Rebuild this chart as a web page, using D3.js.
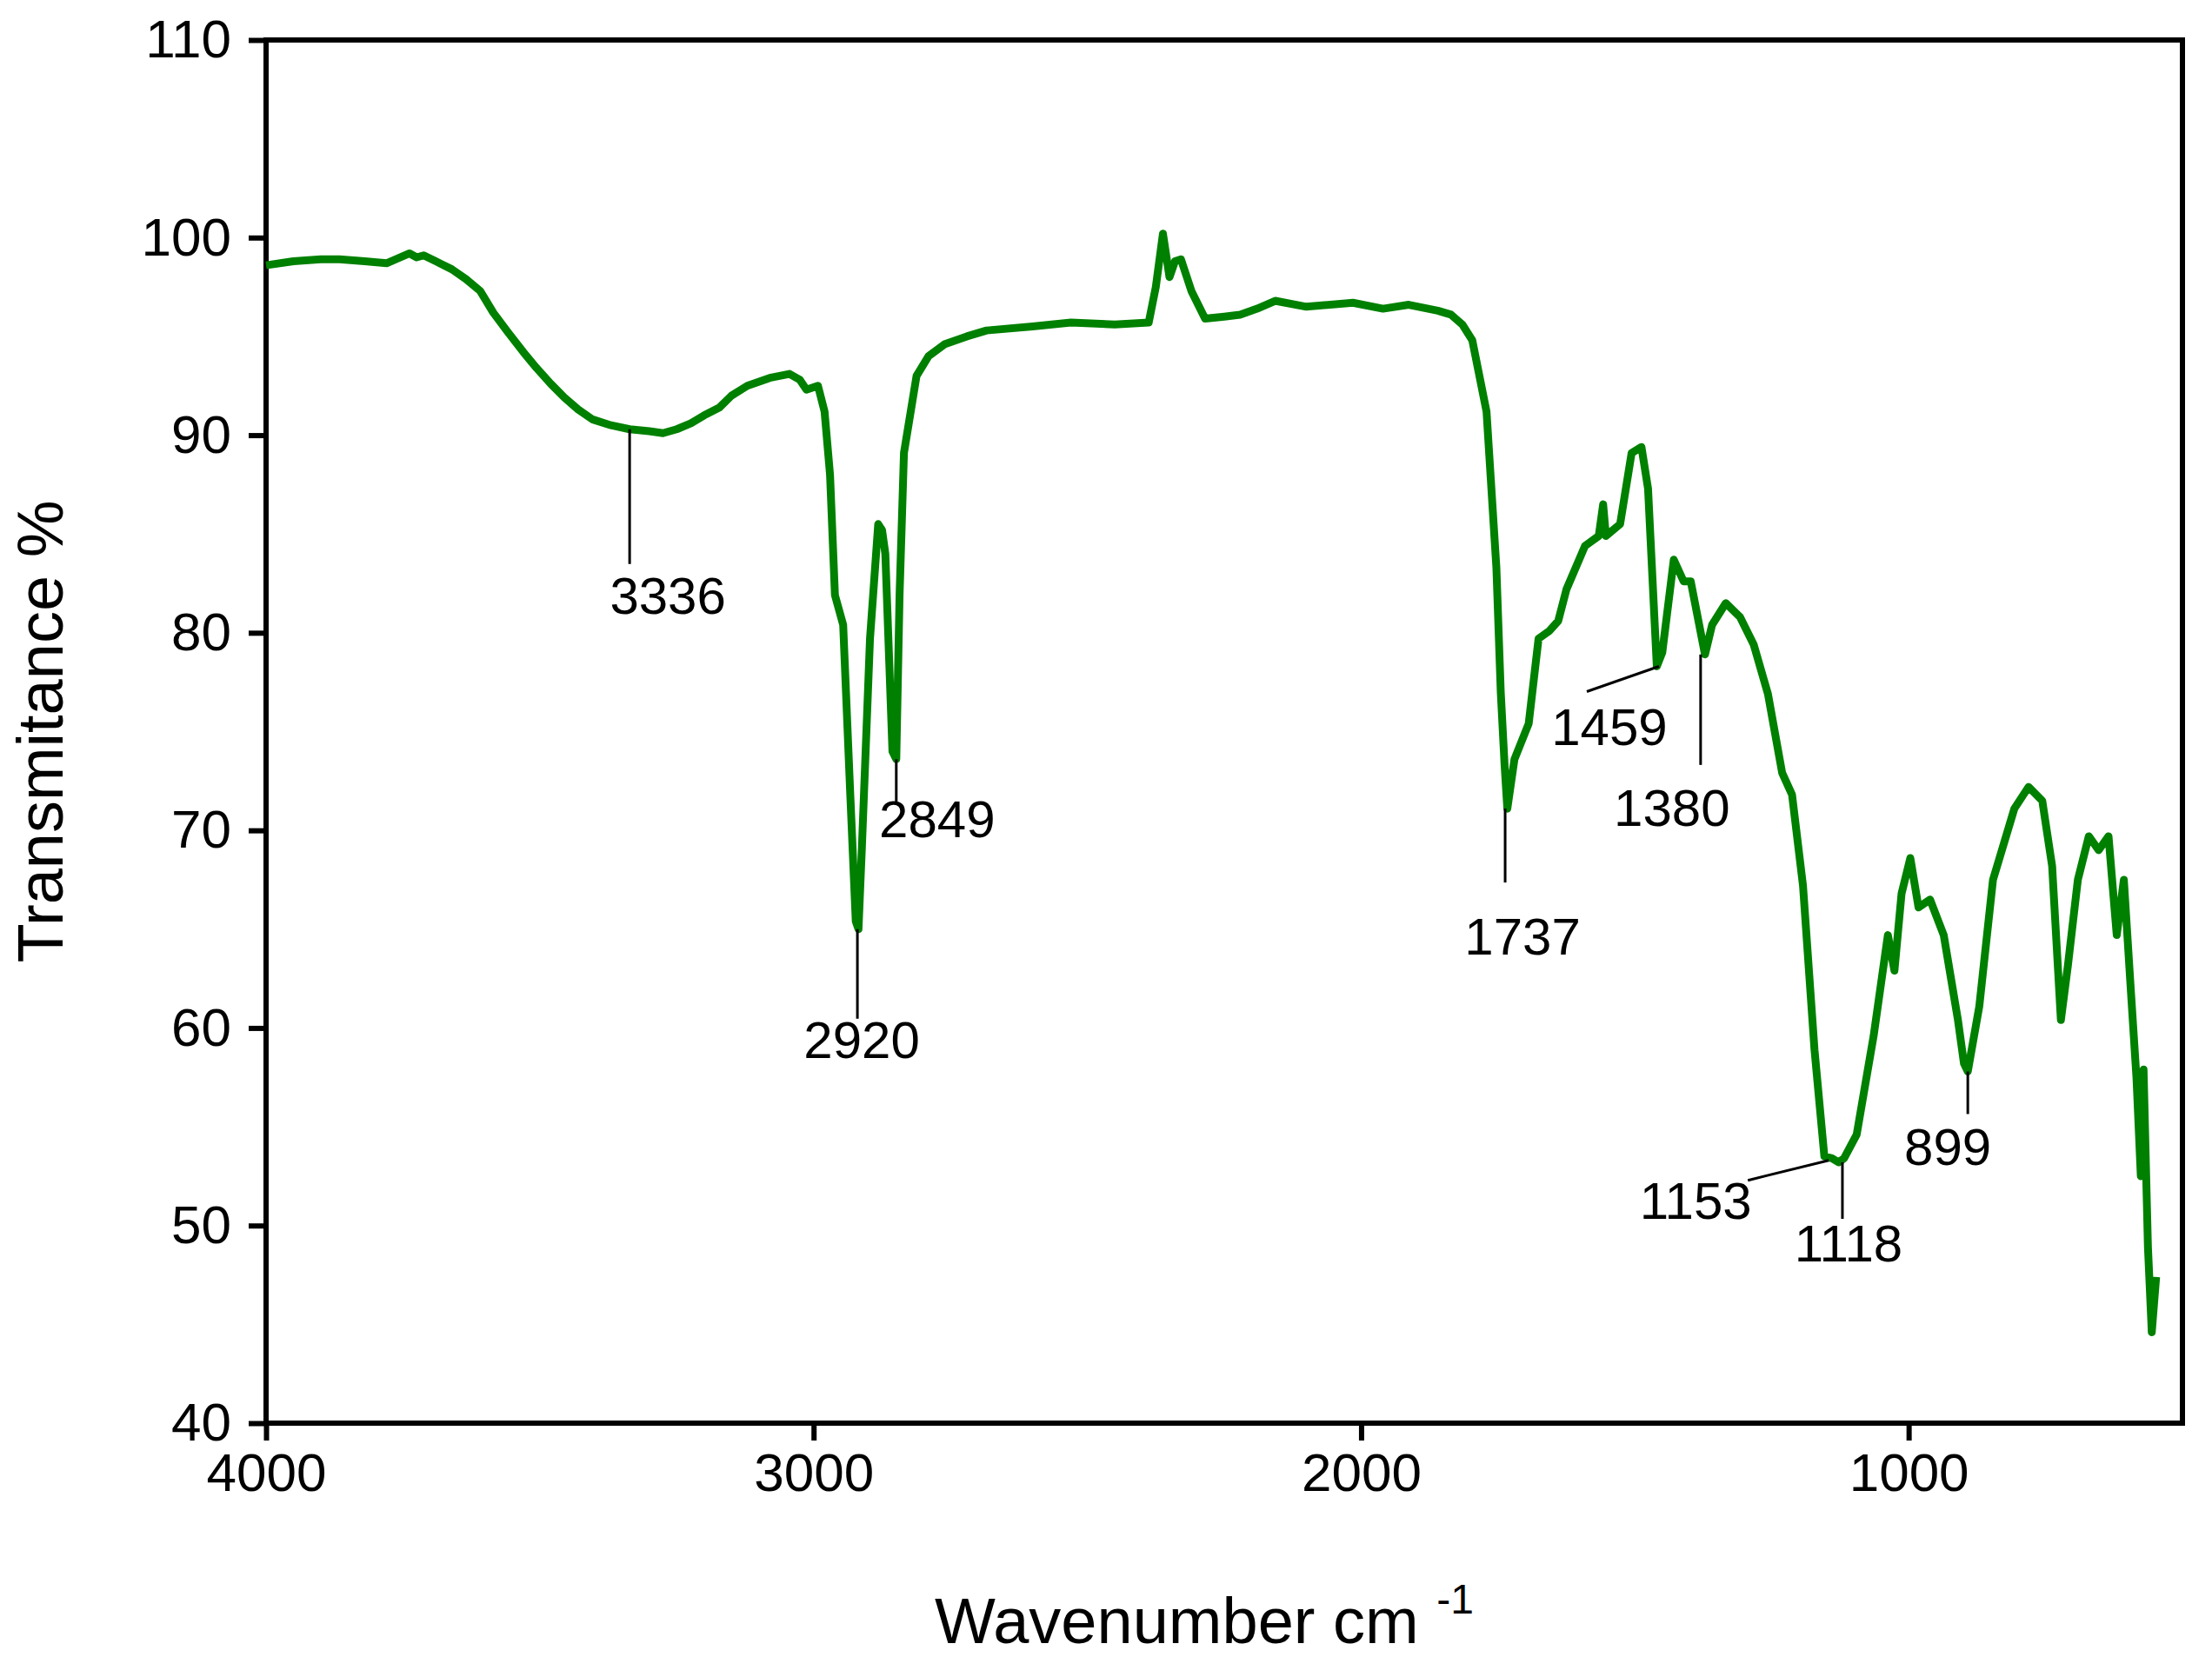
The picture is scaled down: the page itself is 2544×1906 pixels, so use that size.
<!DOCTYPE html>
<html>
<head>
<meta charset="utf-8">
<script src="https://cdn.jsdelivr.net/npm/d3@7"></script>
<style>
  body { margin: 0; background: #fff; }
  text { font-family: "Liberation Sans", Arial, sans-serif; fill: #000; }
</style>
</head>
<body>
<div id="chart"></div>
<script>
// spectrum: wavenumber (cm-1) and transmitance (%)
var wavenumber = [4000, 3950, 3900, 3866, 3820, 3780, 3738, 3725, 3712, 3690, 3661, 3635, 3609, 3585, 3558, 3530, 3506, 3480, 3455, 3430, 3404, 3370, 3336, 3300, 3275, 3250, 3224, 3200, 3172, 3150, 3121, 3080, 3044, 3025, 3013, 2992, 2980, 2970, 2961, 2946, 2933, 2923, 2918, 2912, 2897, 2882, 2875, 2869, 2856, 2849, 2843, 2835, 2812, 2790, 2761, 2720, 2684, 2600, 2530, 2450, 2388, 2375, 2362, 2350, 2340, 2329, 2310, 2285, 2250, 2221, 2190, 2157, 2100, 2015, 1960, 1913, 1860, 1836, 1815, 1797, 1771, 1753, 1745, 1738, 1733, 1720, 1694, 1676, 1656, 1640, 1625, 1591, 1566, 1558, 1553, 1527, 1506, 1488, 1476, 1460, 1450, 1429, 1411, 1398, 1372, 1359, 1334, 1308, 1283, 1257, 1231, 1213, 1193, 1172, 1154, 1140, 1128, 1118, 1095, 1064, 1038, 1026, 1013, 997, 982, 961, 936, 910, 899, 892, 871, 846, 807, 781, 756, 738, 722, 709, 691, 671, 653, 635, 620, 607, 594, 584, 576, 571, 563, 556, 548];
var transmitance = [98.6, 98.8, 98.9, 98.9, 98.8, 98.7, 99.2, 99.0, 99.1, 98.8, 98.4, 97.9, 97.3, 96.2, 95.2, 94.2, 93.4, 92.6, 91.9, 91.3, 90.8, 90.5, 90.3, 90.2, 90.1, 90.3, 90.6, 91.0, 91.4, 92.0, 92.5, 92.9, 93.1, 92.8, 92.3, 92.5, 91.2, 88.0, 81.9, 80.4, 71.8, 65.4, 65.0, 69.0, 79.7, 85.5, 85.2, 84.0, 74.0, 73.6, 81.9, 89.1, 93.0, 94.0, 94.6, 95.0, 95.3, 95.5, 95.7, 95.6, 95.7, 97.5, 100.2, 98.0, 98.8, 98.9, 97.3, 95.9, 96.0, 96.1, 96.4, 96.8, 96.5, 96.7, 96.4, 96.6, 96.3, 96.1, 95.6, 94.8, 91.2, 83.3, 77.0, 73.3, 71.1, 73.6, 75.4, 79.7, 80.1, 80.6, 82.2, 84.4, 84.9, 86.5, 84.9, 85.5, 89.1, 89.4, 87.3, 78.3, 79.0, 83.7, 82.6, 82.6, 78.9, 80.4, 81.5, 80.8, 79.4, 76.9, 72.9, 71.8, 67.2, 58.9, 53.5, 53.4, 53.2, 53.4, 54.6, 59.6, 64.7, 62.9, 66.8, 68.6, 66.1, 66.5, 64.7, 60.4, 58.2, 57.8, 61.1, 67.5, 71.1, 72.2, 71.5, 68.2, 60.4, 63.2, 67.5, 69.7, 69.0, 69.7, 64.7, 67.5, 61.8, 57.5, 52.5, 57.9, 48.9, 44.6, 47.4];

// band labels
var peakWn  = [3336, 2920, 2849, 1737, 1459, 1380, 1153, 1118, 899];
var peakT   = [90.3, 65.0, 73.6, 71.1, 78.3, 78.9, 53.3, 53.2, 57.8];
var peakAt  = [3336, 2920, 2849, 1737, 1456, 1380, 1146, 1121, 892];
var peakLabels = ["3336", "2920", "2849", "1737", "1459", "1380", "1153", "1118", "899"];

var xTicks = [4000, 3000, 2000, 1000];
var yTicks = [40, 50, 60, 70, 80, 90, 100, 110];

var W = 2544, H = 1906;
var m = { left: 306, right: 2510, top: 46, bottom: 1637 };

var svg = d3.select("#chart").append("svg")
    .attr("width", W).attr("height", H);

var x = d3.scaleLinear().domain([4000, 500]).range([m.left, m.right]);
var y = d3.scaleLinear().domain([40, 110]).range([m.bottom, m.top]);

// frame
svg.append("rect")
    .attr("x", m.left).attr("y", m.top)
    .attr("width", m.right - m.left).attr("height", m.bottom - m.top)
    .attr("fill", "none").attr("stroke", "#000").attr("stroke-width", 6);

var xAxis = svg.append("g")
    .attr("transform", "translate(0," + m.bottom + ")")
    .call(d3.axisBottom(x).tickValues(xTicks).tickSize(20).tickPadding(14).tickFormat(d3.format("d")));
var yAxis = svg.append("g")
    .attr("transform", "translate(" + m.left + ",0)")
    .call(d3.axisLeft(y).tickValues(yTicks).tickSize(20).tickPadding(20));
[xAxis, yAxis].forEach(function (g) {
    g.select(".domain").remove();
    g.selectAll("line").attr("stroke", "#000").attr("stroke-width", 6);
    g.selectAll("text").style("font-size", "62px");
});

// spectrum
var pts = wavenumber.map(function (d, i) { return [d, transmitance[i]]; });
var line = d3.line().x(function (d) { return x(d[0]); }).y(function (d) { return y(d[1]); });
svg.append("path")
    .datum(pts)
    .attr("d", line)
    .attr("fill", "none")
    .attr("stroke", "#008000")
    .attr("stroke-width", 9)
    .attr("stroke-linejoin", "round");

// leader offsets (px): line end dx,dy and label dx,dy
var lead = [[0, 155, 44, 212], [0, 103, 5, 148], [0, 49, 47, 90], [0, 85, 20, 168],
            [-83, 29, -57, 91], [0, 127, -33, 197], [-93, 23, -153, 67], [0, 65, 7, 114], [0, 49, -23, 108]];
var ann = svg.append("g");
peakLabels.forEach(function (lab, i) {
    var px = x(peakAt[i]), py = y(peakT[i]), o = lead[i];
    ann.append("line")
        .attr("x1", px).attr("y1", py)
        .attr("x2", px + o[0]).attr("y2", py + o[1])
        .attr("stroke", "#000").attr("stroke-width", 3);
    ann.append("text")
        .attr("x", px + o[2]).attr("y", py + o[3])
        .attr("text-anchor", "middle")
        .style("font-size", "60px")
        .text(lab);
});

// axis titles
var xt = svg.append("text")
    .attr("x", 1385).attr("y", 1890)
    .attr("text-anchor", "middle")
    .style("font-size", "74px");
xt.append("tspan").text("Wavenumber cm ");
xt.append("tspan").attr("dy", -34).style("font-size", "48px").text("-1");

svg.append("text")
    .attr("transform", "translate(72," + ((m.top + m.bottom) / 2) + ") rotate(-90)")
    .attr("text-anchor", "middle")
    .style("font-size", "74px")
    .text("Transmitance %");
</script>
</body>
</html>
